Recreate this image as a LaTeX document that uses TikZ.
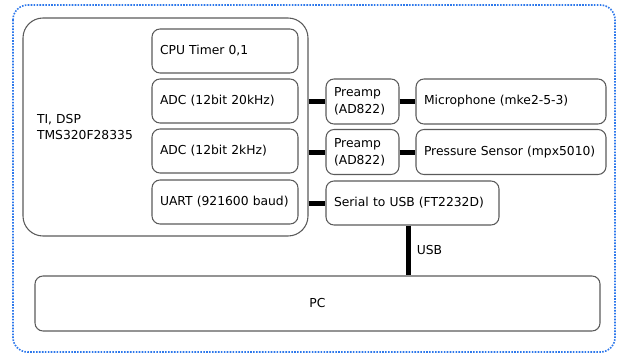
\documentclass[tikz,border=0pt]{standalone}
\usepackage{fontspec}
\setmainfont{DejaVu Sans}
\usetikzlibrary{positioning}
\definecolor{framblue}{RGB}{45,120,235}
\definecolor{boxgray}{RGB}{90,90,90}

\begin{document}
\begin{tikzpicture}[x=0.75pt,y=-0.75pt,
  font=\fontsize{9.25}{12.5}\selectfont,
  box/.style={draw=boxgray,line width=0.8pt,rounded corners=6pt,align=left,inner ysep=0pt},
  modbox/.style={box,minimum width=109.5pt,minimum height=33pt,inner xsep=6pt,text width=97.5pt},
  bus/.style={line width=3.75pt,black}]
\useasboundingbox (0,0) rectangle (617,353);
\draw[framblue,line width=1.2pt,dash pattern=on 1.2pt off 1pt,rounded corners=11pt] (13,5) rectangle (615,352);

\node[box,rounded corners=15pt,minimum width=213.75pt,minimum height=163.5pt,inner xsep=10.5pt,text width=192.75pt] (dsp) at (165.5,127) {TI, DSP\\TMS320F28335};

\node[modbox] (timer) at (225,51) {CPU Timer 0,1};
\node[modbox] (adcmic) at (225,101) {ADC (12bit 20kHz)};
\node[modbox] (adcpres) at (225,151) {ADC (12bit 2kHz)};
\node[modbox] (uart) at (225,202) {UART (921600 baud)};

\node[box,minimum width=54.75pt,minimum height=33.75pt,inner xsep=6pt,text width=42.75pt] (pre1) at (362.5,101.5) {Preamp\\(AD822)};
\node[box,minimum width=54.75pt,minimum height=33.75pt,inner xsep=6pt,text width=42.75pt] (pre2) at (362.5,152) {Preamp\\(AD822)};
\node[box,minimum width=142.5pt,minimum height=33.75pt,inner xsep=6pt,text width=130.5pt] (mic) at (511,101.5) {Microphone (mke2-5-3)};
\node[box,minimum width=142.5pt,minimum height=33.75pt,inner xsep=6pt,text width=130.5pt] (pres) at (511,152) {Pressure Sensor (mpx5010)};
\node[box,minimum width=129.75pt,minimum height=33pt,inner xsep=6pt,text width=117.75pt] (ser) at (412.5,203) {Serial to USB (FT2232D)};

\node[box,align=center,minimum width=423.75pt,minimum height=41.25pt] (pc) at (317.5,303.5) {PC};

\draw[bus] (dsp.east |- pre1.west) -- (pre1.west);
\draw[bus] (dsp.east |- pre2.west) -- (pre2.west);
\draw[bus] (dsp.east |- ser.west) -- (ser.west);
\draw[bus] (pre1.east) -- (mic.west |- pre1.east);
\draw[bus] (pre2.east) -- (pres.west |- pre2.east);
\draw[bus] ([xshift=-3pt]ser.south) -- ([xshift=-3pt]ser.south |- pc.north) node[midway,right=1pt] {USB};
\end{tikzpicture}
\end{document}
